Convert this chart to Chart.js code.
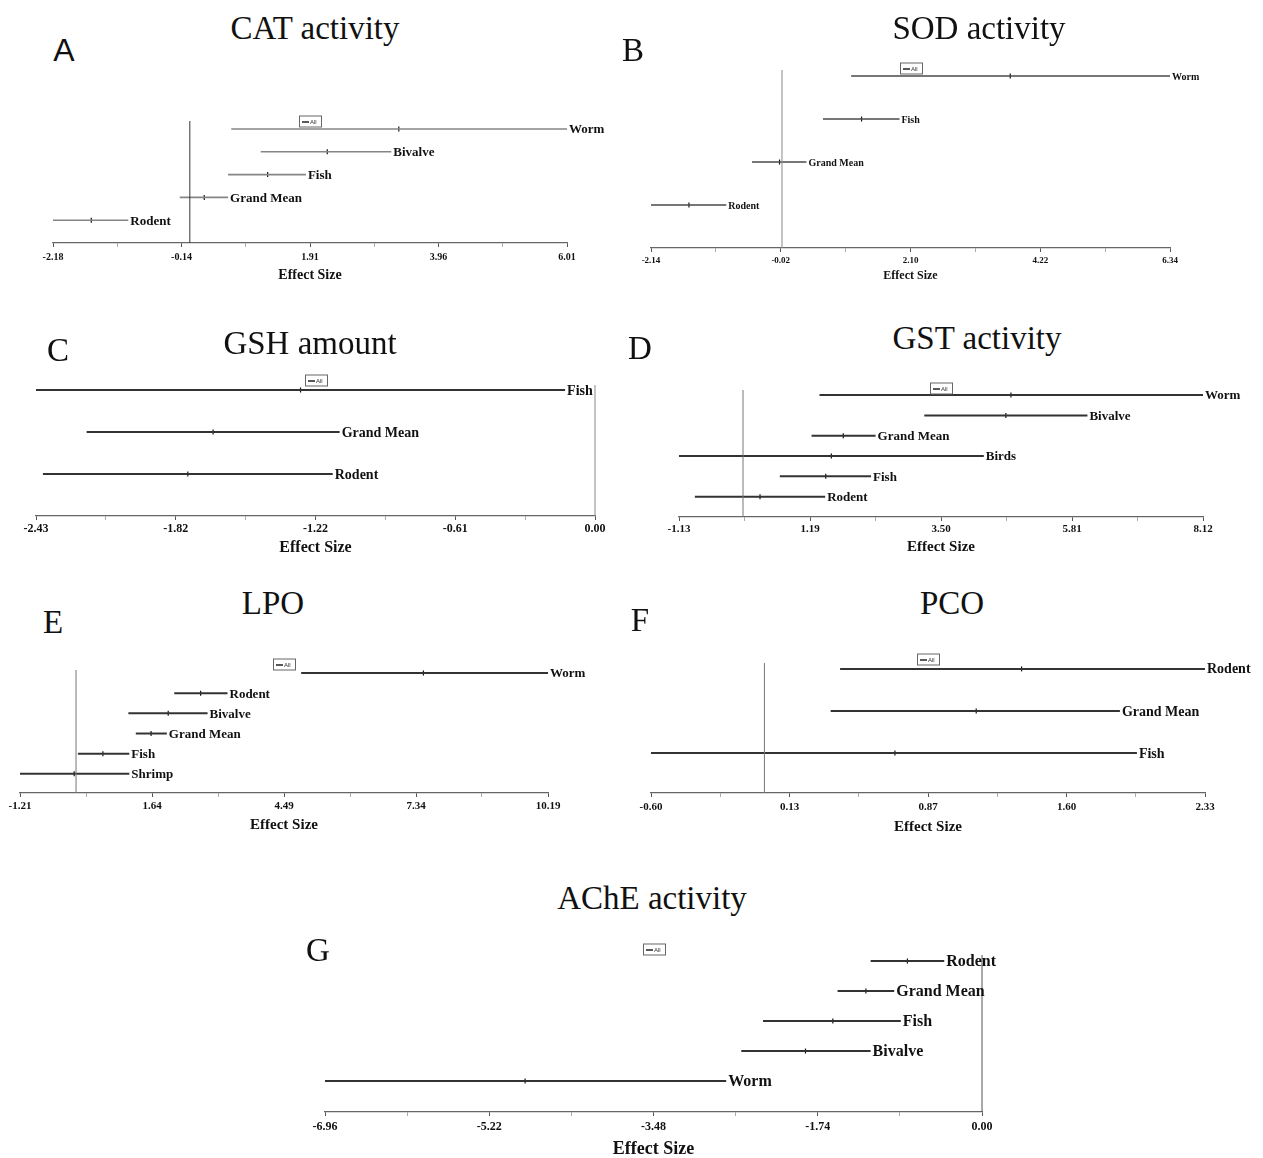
<!DOCTYPE html>
<html><head><meta charset="utf-8">
<script src="https://cdn.jsdelivr.net/npm/chart.js@4.4.1/dist/chart.umd.min.js"></script>
<style>
html,body{margin:0;padding:0;background:#fff;}
#page{position:relative;width:1263px;height:1158px;overflow:hidden;background:#fff;}
#page canvas{position:absolute;}
.ttl{position:absolute;font-family:"Liberation Serif","Times New Roman",serif;color:#111;white-space:nowrap;transform:translate(-50%,-50%);line-height:1;}
.let{position:absolute;color:#111;transform:translate(-50%,-50%);white-space:nowrap;line-height:1;}
</style></head><body><div id="page"></div>
<script>
// ---------- DATA ----------
const catGroups=['Worm','Bivalve','Fish','Grand Mean','Rodent'];
const catMean=[3.33,2.19,1.24,0.23,-1.57];
const catLower=[0.66,1.13,0.61,-0.16,-2.18];
const catUpper=[6.01,3.21,1.85,0.61,-0.98];
const catTicks=['-2.18','-0.14','1.91','3.96','6.01'];

const sodGroups=['Worm','Fish','Grand Mean','Rodent'];
const sodMean=[3.73,1.30,-0.04,-1.52];
const sodLower=[1.13,0.67,-0.49,-2.14];
const sodUpper=[6.34,1.92,0.40,-0.91];
const sodTicks=['-2.14','-0.02','2.10','4.22','6.34'];

const gshGroups=['Fish','Grand Mean','Rodent'];
const gshMean=[-1.28,-1.66,-1.77];
const gshLower=[-2.43,-2.21,-2.40];
const gshUpper=[-0.13,-1.11,-1.14];
const gshTicks=['-2.43','-1.82','-1.22','-0.61','0.00'];

const gstGroups=['Worm','Bivalve','Grand Mean','Birds','Fish','Rodent'];
const gstMean=[4.73,4.64,1.77,1.56,1.46,0.30];
const gstLower=[1.35,3.20,1.21,-1.13,0.65,-0.85];
const gstUpper=[8.12,6.08,2.34,4.25,2.26,1.45];
const gstTicks=['-1.13','1.19','3.50','5.81','8.12'];

const lpoGroups=['Worm','Rodent','Bivalve','Grand Mean','Fish','Shrimp'];
const lpoMean=[7.50,2.69,1.99,1.62,0.58,-0.04];
const lpoLower=[4.86,2.12,1.13,1.29,0.04,-1.21];
const lpoUpper=[10.19,3.27,2.84,1.96,1.15,1.15];
const lpoTicks=['-1.21','1.64','4.49','7.34','10.19'];

const pcoGroups=['Rodent','Grand Mean','Fish'];
const pcoMean=[1.36,1.12,0.69];
const pcoLower=[0.40,0.35,-0.60];
const pcoUpper=[2.33,1.88,1.97];
const pcoTicks=['-0.60','0.13','0.87','1.60','2.33'];

const acheGroups=['Rodent','Grand Mean','Fish','Bivalve','Worm'];
const acheMean=[-0.79,-1.23,-1.58,-1.87,-4.84];
const acheLower=[-1.18,-1.53,-2.32,-2.55,-6.96];
const acheUpper=[-0.40,-0.93,-0.86,-1.18,-2.71];
const acheTicks=['-6.96','-5.22','-3.48','-1.74','0.00'];

const refValue=0;
const legendLabel='All';
const axisTitle='Effect Size';

// ---------- LAYOUT ----------
const panels=[
 {title:'CAT activity',letter:'A',groups:catGroups,mean:catMean,lower:catLower,upper:catUpper,ticks:catTicks,
  L:53,R:567,T:121,B:243,yMin:0,yMax:5.35,titleX:315,titleY:28,letX:64,letY:50,letSans:true,legY:121,
  lblSize:13,tickSize:10,tickPad:4,esSize:14,lineColor:'#858585',lineW:1.6,zeroColor:'#333'},
 {title:'SOD activity',letter:'B',groups:sodGroups,mean:sodMean,lower:sodLower,upper:sodUpper,ticks:sodTicks,
  L:651,R:1170,T:70,B:248,yMin:0,yMax:4.14,titleX:979,titleY:28,letX:633,letY:50,letSans:false,legY:68,
  lblSize:10,tickSize:9,tickPad:3,esSize:12,lineColor:'#4a4a4a',lineW:1.5,zeroColor:'#888'},
 {title:'GSH amount',letter:'C',groups:gshGroups,mean:gshMean,lower:gshLower,upper:gshUpper,ticks:gshTicks,
  L:36,R:595,T:385,B:516,yMin:0,yMax:3.12,titleX:310,titleY:343,letX:58,letY:350,letSans:false,legY:380,
  lblSize:14,tickSize:12,tickPad:2,esSize:16,lineColor:'#333',lineW:2,zeroColor:'#888'},
 {title:'GST activity',letter:'D',groups:gstGroups,mean:gstMean,lower:gstLower,upper:gstUpper,ticks:gstTicks,
  L:679,R:1203,T:390,B:517,yMin:0,yMax:6.25,titleX:977,titleY:338,letX:640,letY:348,letSans:false,legY:388,
  lblSize:13,tickSize:11,tickPad:2,esSize:15,lineColor:'#333',lineW:2,zeroColor:'#777'},
 {title:'LPO',letter:'E',groups:lpoGroups,mean:lpoMean,lower:lpoLower,upper:lpoUpper,ticks:lpoTicks,
  L:20,R:548,T:670,B:793,yMin:0.05,yMax:6.15,titleX:273,titleY:603,letX:53,letY:622,letSans:false,legY:664,
  lblSize:13,tickSize:11,tickPad:3,esSize:15,lineColor:'#333',lineW:2,zeroColor:'#777'},
 {title:'PCO',letter:'F',groups:pcoGroups,mean:pcoMean,lower:pcoLower,upper:pcoUpper,ticks:pcoTicks,
  L:651,R:1205,T:663,B:793,yMin:0.05,yMax:3.14,titleX:952,titleY:603,letX:640,letY:620,letSans:false,legY:659,
  lblSize:14,tickSize:11,tickPad:4,esSize:15,lineColor:'#333',lineW:2,zeroColor:'#777'},
 {title:'AChE activity',letter:'G',groups:acheGroups,mean:acheMean,lower:acheLower,upper:acheUpper,ticks:acheTicks,
  L:325,R:982,T:955,B:1112,yMin:-0.03,yMax:5.2,titleX:652,titleY:898,letX:318,letY:950,letSans:false,legY:949,
  lblSize:16,tickSize:12,tickPad:4,esSize:18,lineColor:'#333',lineW:2,zeroColor:'#555'}
];

const SERIF='"Liberation Serif","Times New Roman",serif';
const page=document.getElementById('page');

const forestPlugin={
  id:'forest',
  afterDatasetsDraw(chart,args,opts){
    const p=opts.p; if(!p) return;
    const {ctx,chartArea}=chart; const x=chart.scales.x, y=chart.scales.y;
    ctx.save();
    ctx.font='bold '+p.lblSize+'px '+SERIF;
    ctx.fillStyle='#111'; ctx.textBaseline='middle'; ctx.textAlign='left';
    const n=p.groups.length;
    p.groups.forEach((g,i)=>{
      ctx.fillText(g,x.getPixelForValue(p.upper[i])+2,y.getPixelForValue(n-i)+1);
    });
    // legend box
    const cx=Math.round((chartArea.left+chartArea.right)/2);
    const ly=Math.round(p.legY-p.cTop);
    const w=22,h=11;
    ctx.fillStyle='#fff'; ctx.fillRect(cx-w/2,ly-h/2,w,h);
    ctx.strokeStyle='#666'; ctx.lineWidth=1; ctx.strokeRect(cx-w/2+0.5,ly-h/2+0.5,w,h);
    ctx.strokeStyle='#222'; ctx.lineWidth=1.5; ctx.beginPath();
    ctx.moveTo(cx-w/2+3,ly+1); ctx.lineTo(cx-w/2+10,ly+1); ctx.stroke();
    ctx.fillStyle='#333'; ctx.font='6px "Liberation Sans",sans-serif'; ctx.textBaseline='middle';
    ctx.fillText(legendLabel,cx-w/2+11,ly+1);
    ctx.restore();
  }
};

panels.forEach(p=>{
  const axisH=4+2*p.tickPad+p.tickSize*1.2+p.esSize*1.2;
  const cLeft=Math.max(0,p.L-45), cTop=p.T-25;
  const cRight=Math.min(1263,p.R+80), cBottom=Math.round(p.B+axisH+4);
  p.cTop=cTop;
  const cv=document.createElement('canvas');
  cv.width=cRight-cLeft; cv.height=cBottom-cTop;
  cv.style.left=cLeft+'px'; cv.style.top=cTop+'px';
  cv.style.width=(cRight-cLeft)+'px'; cv.style.height=(cBottom-cTop)+'px';
  page.appendChild(cv);

  const t=document.createElement('div'); t.className='ttl'; t.textContent=p.title;
  t.style.left=p.titleX+'px'; t.style.top=p.titleY+'px'; t.style.fontSize='33px'; page.appendChild(t);
  const l=document.createElement('div'); l.className='let'; l.textContent=p.letter;
  l.style.left=p.letX+'px'; l.style.top=p.letY+'px';
  l.style.fontFamily=p.letSans?'"Liberation Sans","Open Sans",sans-serif':SERIF;
  l.style.fontSize=p.letSans?'32px':'33px'; page.appendChild(l);

  const xmin=parseFloat(p.ticks[0]), xmax=parseFloat(p.ticks[p.ticks.length-1]);
  const n=p.groups.length;
  const datasets=[];
  datasets.push({label:'zero',data:[{x:refValue,y:p.yMin},{x:refValue,y:p.yMax}],showLine:true,
    borderColor:p.zeroColor,borderWidth:1,pointRadius:0,clip:false});
  p.groups.forEach((g,i)=>{
    datasets.push({label:g,data:[{x:p.lower[i],y:n-i},{x:p.upper[i],y:n-i}],showLine:true,
      borderColor:p.lineColor,borderWidth:p.lineW,pointRadius:0,clip:false});
  });
  datasets.push({label:legendLabel,data:p.mean.map((m,i)=>({x:m,y:n-i})),showLine:false,
    pointStyle:'line',rotation:90,radius:2.5,borderColor:'#111',borderWidth:1.2,backgroundColor:'#111',clip:false});

  new Chart(cv,{
    type:'scatter',
    data:{datasets},
    options:{
      responsive:false,animation:false,devicePixelRatio:1,
      layout:{padding:{left:p.L-cLeft,right:cRight-p.R,top:p.T-cTop,bottom:cBottom-p.B-axisH}},
      plugins:{legend:{display:false},tooltip:{enabled:false},forest:{p}},
      scales:{
        x:{type:'linear',min:xmin,max:xmax,
          afterBuildTicks:(s)=>{s.ticks=Array.from({length:9},(_,k)=>({value:xmin+(xmax-xmin)*k/8}));},
          ticks:{autoSkip:false,maxRotation:0,minRotation:0,padding:p.tickPad,color:'#111',
            font:{family:SERIF,size:p.tickSize,weight:'bold'},
            callback:(v,idx)=>idx%2===0?p.ticks[idx/2]:''},
          grid:{display:true,drawOnChartArea:false,drawTicks:true,tickLength:4,color:'#555',
            tickColor:(c)=>c.index%2===0?'#555':'#aaa'},
          border:{display:true,color:'#666',width:1.3},
          title:{display:true,text:axisTitle,color:'#111',padding:{top:0,bottom:0},
            font:{family:SERIF,size:p.esSize,weight:'bold'}}
        },
        y:{type:'linear',display:false,min:p.yMin,max:p.yMax}
      }
    },
    plugins:[forestPlugin]
  });
});
</script></body></html>
